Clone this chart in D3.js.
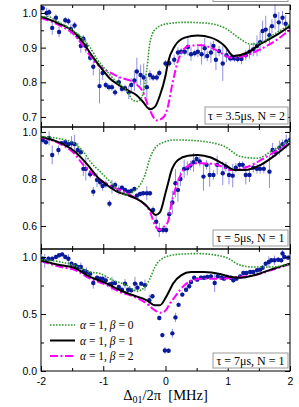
<!DOCTYPE html>
<html>
<head>
<meta charset="utf-8">
<script src="https://cdn.jsdelivr.net/npm/d3@7"></script>
<style>
  body { margin: 0; background: #fff; }
  svg { display: block; }
</style>
</head>
<body>
<script>
// measured points: [detuning, value, error]
const pts1 = [[-1.97,1.014,0.01],[-1.91,1.0,0.015],[-1.87,1.002,0.01],[-1.82,0.957,0.02],[-1.76,0.986,0.01],[-1.71,0.945,0.015],
  [-1.61,0.979,0.01],[-1.56,0.976,0.01],[-1.52,0.954,0.015],[-1.46,0.964,0.01],[-1.41,0.933,0.01],[-1.36,0.905,0.02],
  [-1.32,0.926,0.01],[-1.28,0.905,0.02],[-1.21,0.871,0.01],[-1.16,0.845,0.025],[-1.06,0.789,0.05],[-1.01,0.827,0.02],
  [-0.96,0.792,0.01],[-0.91,0.786,0.01],[-0.86,0.786,0.01],[-0.81,0.771,0.01],[-0.75,0.80,0.015],[-0.70,0.781,0.01],
  [-0.65,0.783,0.01],[-0.59,0.771,0.02],[-0.55,0.792,0.02],[-0.50,0.805,0.03],[-0.46,0.831,0.04],[-0.40,0.821,0.03],
  [-0.35,0.814,0.04],[-0.30,0.786,0.03],[-0.25,0.821,0.015],[-0.20,0.814,0.01],[-0.14,0.814,0.01],[-0.10,0.827,0.01],
  [0.0,0.854,0.01],[0.06,0.855,0.01],[0.14,0.865,0.015],[0.20,0.886,0.015],[0.25,0.888,0.01],[0.31,0.888,0.01],
  [0.36,0.902,0.025],[0.41,0.881,0.02],[0.47,0.884,0.01],[0.52,0.888,0.015],[0.58,0.881,0.03],[0.63,0.898,0.03],
  [0.67,0.876,0.015],[0.73,0.886,0.03],[0.77,0.905,0.015],[0.81,0.865,0.03],[0.86,0.89,0.015],[0.92,0.854,0.05],
  [0.98,0.878,0.02],[1.04,0.869,0.01],[1.07,0.871,0.01],[1.11,0.869,0.01],[1.16,0.867,0.01],[1.22,0.867,0.015],
  [1.29,0.878,0.015],[1.35,0.888,0.02],[1.41,0.895,0.02],[1.47,0.905,0.03],[1.52,0.916,0.03],[1.56,0.948,0.03],
  [1.61,0.952,0.04],[1.67,0.936,0.025],[1.71,0.962,0.02],[1.76,0.992,0.04],[1.82,0.973,0.03],[1.88,0.986,0.02],
  [1.93,0.969,0.025],[2.0,0.96,0.02]];

const pts2 = [[-1.97,0.966,0.015],[-1.92,0.956,0.01],[-1.87,0.973,0.03],[-1.82,0.902,0.04],[-1.72,0.923,0.02],
  [-1.67,0.952,0.01],[-1.61,0.956,0.01],[-1.56,0.948,0.01],[-1.51,0.952,0.03],[-1.46,0.948,0.04],[-1.41,0.923,0.03],
  [-1.36,0.914,0.015],[-1.32,0.843,0.03],[-1.28,0.843,0.05],[-1.21,0.82,0.015],[-1.16,0.746,0.02],[-1.10,0.796,0.03],
  [-1.05,0.786,0.015],[-1.01,0.770,0.02],[-0.96,0.777,0.015],[-0.90,0.695,0.015],[-0.86,0.767,0.03],[-0.81,0.774,0.015],
  [-0.75,0.753,0.02],[-0.70,0.763,0.01],[-0.65,0.753,0.01],[-0.60,0.746,0.01],[-0.55,0.749,0.01],[-0.50,0.757,0.01],
  [-0.46,0.729,0.01],[-0.41,0.736,0.01],[-0.36,0.739,0.01],[-0.30,0.739,0.03],[-0.25,0.739,0.01],[-0.20,0.668,0.015],
  [-0.15,0.618,0.03],[-0.10,0.583,0.03],[-0.04,0.583,0.015],[0.01,0.583,0.015],[0.06,0.65,0.02],[0.11,0.70,0.05],
  [0.16,0.782,0.06],[0.20,0.753,0.05],[0.24,0.80,0.03],[0.30,0.843,0.04],[0.35,0.845,0.03],[0.40,0.857,0.02],
  [0.45,0.871,0.04],[0.50,0.885,0.02],[0.55,0.874,0.02],[0.61,0.81,0.06],[0.66,0.86,0.02],[0.71,0.817,0.05],
  [0.77,0.817,0.02],[0.83,0.86,0.04],[0.92,0.824,0.05],[0.97,0.852,0.02],[1.02,0.817,0.04],[1.08,0.814,0.05],
  [1.13,0.848,0.02],[1.19,0.86,0.015],[1.24,0.86,0.015],[1.29,0.817,0.04],[1.35,0.817,0.03],[1.41,0.848,0.02],
  [1.47,0.843,0.02],[1.52,0.843,0.02],[1.58,0.843,0.02],[1.67,0.831,0.07],[1.72,0.923,0.03],[1.77,0.914,0.02],
  [1.83,0.933,0.03],[1.88,0.948,0.02],[1.94,0.959,0.03],[2.0,0.966,0.02]];

const pts3 = [[-1.97,0.985,0.02],[-1.94,0.965,0.06],[-1.88,0.985,0.02],[-1.82,0.985,0.02],[-1.76,1.0,0.02],
  [-1.71,1.015,0.02],[-1.66,1.023,0.02],[-1.61,1.0,0.02],[-1.56,0.985,0.04],[-1.51,0.941,0.02],[-1.45,0.927,0.02],
  [-1.41,0.912,0.02],[-1.36,0.912,0.04],[-1.31,0.877,0.02],[-1.27,0.868,0.04],[-1.21,0.854,0.02],[-1.16,0.772,0.05],
  [-1.10,0.818,0.02],[-1.05,0.81,0.02],[-1.01,0.81,0.02],[-0.96,0.795,0.04],[-0.90,0.76,0.02],[-0.86,0.766,0.06],
  [-0.81,0.772,0.02],[-0.75,0.737,0.02],[-0.70,0.713,0.02],[-0.65,0.766,0.04],[-0.60,0.713,0.02],[-0.55,0.708,0.02],
  [-0.49,0.766,0.06],[-0.45,0.731,0.04],[-0.39,0.766,0.02],[-0.33,0.752,0.05],[-0.26,0.62,0.05],[-0.21,0.655,0.02],
  [-0.10,0.465,0.02],[-0.05,0.315,0.02],[-0.01,0.18,0.03],[0.05,0.178,0.02],[0.11,0.33,0.04],[0.16,0.47,0.04],
  [0.21,0.58,0.02],[0.27,0.67,0.02],[0.33,0.713,0.02],[0.38,0.743,0.02],[0.41,0.781,0.02],[0.46,0.818,0.02],
  [0.51,0.801,0.02],[0.57,0.818,0.02],[0.62,0.818,0.02],[0.67,0.825,0.02],[0.73,0.83,0.02],[0.79,0.772,0.08],
  [0.84,0.83,0.02],[0.90,0.818,0.02],[0.94,0.81,0.02],[0.99,0.825,0.02],[1.05,0.818,0.02],[1.09,0.795,0.02],
  [1.14,0.81,0.02],[1.20,0.83,0.02],[1.25,0.86,0.02],[1.30,0.86,0.02],[1.36,0.868,0.02],[1.41,0.868,0.02],
  [1.47,0.883,0.02],[1.52,0.889,0.02],[1.56,0.906,0.02],[1.61,0.941,0.02],[1.66,0.956,0.05],[1.70,0.971,0.02],
  [1.75,0.971,0.04],[1.81,0.976,0.02],[1.86,0.971,0.02],[1.88,1.03,0.04],[1.91,1.0,0.02],[1.97,0.994,0.02]];

// model curves: alpha = 1, beta = 0 / 1 / 2
const g1 = [[-2,0.988],[-1.9,0.99],[-1.73,0.975],[-1.55,0.957],[-1.32,0.924],[-1.21,0.90],[-1.1,0.867],[-0.97,0.838],
  [-0.78,0.80],[-0.62,0.776],[-0.52,0.748],[-0.44,0.745],[-0.36,0.767],[-0.30,0.838],[-0.25,0.914],[-0.17,0.952],
  [0,0.968],[0.31,0.973],[0.63,0.971],[0.95,0.957],[1.21,0.924],[1.37,0.91],[1.52,0.914],[1.74,0.938],[2,0.967]];
const b1 = [[-2,0.989],[-1.73,0.971],[-1.47,0.945],[-1.32,0.914],[-1.18,0.876],[-1.02,0.838],[-0.89,0.81],[-0.73,0.79],
  [-0.60,0.776],[-0.46,0.762],[-0.36,0.743],[-0.25,0.722],[-0.17,0.729],[-0.09,0.762],[0,0.819],[0.04,0.857],
  [0.15,0.905],[0.31,0.929],[0.52,0.935],[0.73,0.929],[0.95,0.905],[1.09,0.876],[1.32,0.886],[1.52,0.91],[1.8,0.938],[2,0.962]];
const m1 = [[-2,0.986],[-1.68,0.962],[-1.47,0.938],[-1.25,0.886],[-1.1,0.852],[-0.94,0.833],[-0.73,0.814],[-0.52,0.80],
  [-0.36,0.771],[-0.25,0.719],[-0.14,0.69],[-0.03,0.70],[0.03,0.724],[0.11,0.795],[0.21,0.867],[0.37,0.905],
  [0.58,0.907],[0.79,0.895],[1.06,0.871],[1.27,0.876],[1.52,0.895],[1.8,0.924],[2,0.952]];

const g2 = [[-2,0.98],[-1.68,0.97],[-1.47,0.952],[-1.32,0.916],[-1.21,0.874],[-1.05,0.831],[-0.89,0.789],[-0.73,0.746],
  [-0.62,0.732],[-0.52,0.745],[-0.41,0.774],[-0.33,0.817],[-0.25,0.888],[-0.17,0.931],[0,0.959],[0.14,0.966],
  [0.52,0.962],[0.95,0.938],[1.21,0.895],[1.48,0.888],[1.69,0.916],[2,0.966]];
const b2 = [[-2,0.98],[-1.68,0.952],[-1.47,0.919],[-1.25,0.86],[-1.1,0.81],[-0.94,0.774],[-0.78,0.746],[-0.62,0.732],
  [-0.46,0.715],[-0.33,0.692],[-0.22,0.661],[-0.16,0.647],[-0.09,0.658],[0,0.74],[0.04,0.78],[0.09,0.831],[0.2,0.881],
  [0.36,0.899],[0.52,0.902],[0.73,0.891],[0.95,0.86],[1.11,0.838],[1.27,0.838],[1.53,0.86],[1.8,0.909],[2,0.952]];
const m2 = [[-2,0.976],[-1.68,0.948],[-1.47,0.909],[-1.32,0.86],[-1.16,0.82],[-0.94,0.777],[-0.73,0.753],[-0.52,0.725],
  [-0.36,0.697],[-0.25,0.661],[-0.17,0.604],[-0.1,0.583],[0,0.604],[0.04,0.618],[0.09,0.689],[0.2,0.789],[0.31,0.845],
  [0.52,0.867],[0.79,0.863],[1.06,0.838],[1.32,0.852],[1.58,0.888],[1.8,0.923],[2,0.952]];

const g3 = [[-2,0.976],[-1.68,0.956],[-1.47,0.927],[-1.21,0.868],[-1.05,0.854],[-0.84,0.795],[-0.62,0.752],[-0.46,0.70],
  [-0.36,0.722],[-0.25,0.81],[-0.17,0.912],[0,1.0],[0.21,1.023],[0.52,1.03],[0.95,1.0],[1.21,0.927],[1.42,0.912],
  [1.69,0.912],[2,0.935]];
const b3 = [[-2,0.97],[-1.68,0.927],[-1.47,0.906],[-1.21,0.825],[-0.94,0.766],[-0.73,0.708],[-0.52,0.664],[-0.3,0.62],
  [-0.17,0.576],[-0.09,0.576],[0,0.64],[0.05,0.69],[0.12,0.766],[0.25,0.839],[0.41,0.868],[0.62,0.868],[0.89,0.848],
  [1.05,0.825],[1.21,0.818],[1.42,0.839],[1.69,0.889],[2,0.941]];
const m3 = [[-2,0.965],[-1.68,0.912],[-1.47,0.889],[-1.21,0.81],[-0.94,0.752],[-0.73,0.693],[-0.52,0.655],[-0.3,0.59],
  [-0.17,0.532],[-0.05,0.51],[0.0,0.53],[0.07,0.59],[0.15,0.65],[0.3,0.75],[0.47,0.801],[0.68,0.81],[0.95,0.81],
  [1.16,0.825],[1.42,0.839],[1.69,0.883],[2,0.936]];

const xMajor = [-2, -1, 0, 1, 2];
const xMinor = [-1.5, -0.5, 0.5, 1.5];
const yMajor1 = [0.7, 0.8, 0.9, 1.0], yMinor1 = [0.75, 0.85, 0.95];
const yMajor2 = [0.6, 0.8, 1.0], yMinor2 = [0.7, 0.9];
const yMajor3 = [0.0, 0.5, 1.0], yMinor3 = [0.25, 0.75];
const panelLabels = ["τ = 3.5μs, N = 2", "τ = 5μs, N = 1", "τ = 7μs, N = 1"];
const legendBetas = ["0", "1", "2"];

const width = 299, height = 407;
const sans = "'Liberation Sans', Arial, sans-serif";
const serif = "'Liberation Serif', 'Times New Roman', serif";
const col = { dot: "#0a1a9c", err: "#8f8fe0", green: "#2e9a2e", black: "#000", magenta: "#ff00ff" };
const styles = [
  { color: col.green, w: 1.6, dash: "1.6,1.4" },
  { color: col.black, w: 2, dash: null },
  { color: col.magenta, w: 2, dash: "8,2.5,2,2.5" }
];

const svg = d3.select("body").append("svg")
    .attr("width", width)
    .attr("height", height);

const x = d3.scaleLinear().domain([-2, 2]).range([41, 290]);

const panels = [
  { pts: pts1, curves: [g1, b1, m1], top: 5, bottom: 127, domain: [0.671, 1.023], major: yMajor1, minor: yMinor1, label: panelLabels[0], box: [205, 107, 83, 17] },
  { pts: pts2, curves: [g2, b2, m2], top: 127, bottom: 249, domain: [0.502, 1.021], major: yMajor2, minor: yMinor2, label: panelLabels[1], box: [213, 230, 75, 16] },
  { pts: pts3, curves: [g3, b3, m3], top: 249, bottom: 371, domain: [0, 1.07], major: yMajor3, minor: yMinor3, label: panelLabels[2], box: [213, 353, 75, 15] }
];

// cut-off label box of the panel above (top edge of the figure)
svg.append("rect")
    .attr("x", 213).attr("y", -12)
    .attr("width", 75).attr("height", 13.5)
    .attr("fill", "#fff")
    .attr("stroke", "#999");

const line = d3.line().curve(d3.curveMonotoneX);

panels.forEach((p, i) => {
  const y = d3.scaleLinear().domain(p.domain).range([p.bottom, p.top]);
  const g = svg.append("g");

  const clipId = "clip" + i;
  g.append("clipPath").attr("id", clipId)
    .append("rect")
      .attr("x", x(-2)).attr("y", p.top)
      .attr("width", x(2) - x(-2)).attr("height", p.bottom - p.top);

  const plot = g.append("g").attr("clip-path", `url(#${clipId})`);

  // error bars
  plot.append("g").selectAll("line")
    .data(p.pts)
    .join("line")
      .attr("x1", d => x(d[0])).attr("x2", d => x(d[0]))
      .attr("y1", d => y(d[1] - d[2])).attr("y2", d => y(d[1] + d[2]))
      .attr("stroke", col.err)
      .attr("stroke-width", 1);

  plot.append("g").selectAll("circle")
    .data(p.pts)
    .join("circle")
      .attr("cx", d => x(d[0])).attr("cy", d => y(d[1]))
      .attr("r", 2.2)
      .attr("fill", col.dot);

  line.x(d => x(d[0])).y(d => y(d[1]));
  [2, 1, 0].forEach(k => {
    plot.append("path")
      .attr("d", line(p.curves[k]))
      .attr("fill", "none")
      .attr("stroke", styles[k].color)
      .attr("stroke-width", styles[k].w)
      .attr("stroke-dasharray", styles[k].dash);
  });

  // inward ticks on all four sides
  const addAxis = (axis, tx, ty, vals, size, fmt) => {
    const a = g.append("g")
        .attr("transform", `translate(${tx},${ty})`)
        .call(axis.tickValues(vals).tickSize(-size).tickPadding(fmt ? 4 : 0).tickFormat(fmt || ""))
        .attr("font-family", sans)
        .attr("font-size", 10.5);
    a.select(".domain").remove();
    a.selectAll("text").attr("fill", "#000");
    return a;
  };
  const fmtY = d3.format(".1f");
  addAxis(d3.axisLeft(y), x(-2), 0, p.major, 5, fmtY);
  addAxis(d3.axisLeft(y), x(-2), 0, p.minor, 3, null);
  addAxis(d3.axisRight(y), x(2), 0, p.major, 5, null);
  addAxis(d3.axisRight(y), x(2), 0, p.minor, 3, null);
  addAxis(d3.axisTop(x), 0, p.top, xMajor, 5, null);
  addAxis(d3.axisTop(x), 0, p.top, xMinor, 3, null);
  const bx = addAxis(d3.axisBottom(x), 0, p.bottom, xMajor, 5, i === 2 ? (d => String(d)) : null);
  if (i === 2) bx.selectAll("text").attr("dy", "0.71em").attr("y", 7);
  addAxis(d3.axisBottom(x), 0, p.bottom, xMinor, 3, null);

  g.append("rect")
      .attr("x", x(-2)).attr("y", p.top)
      .attr("width", x(2) - x(-2)).attr("height", p.bottom - p.top)
      .attr("fill", "none")
      .attr("stroke", "#000")
      .attr("stroke-width", 1);

  // panel label box
  const [bx0, by0, bw, bh] = p.box;
  g.append("rect")
      .attr("x", bx0).attr("y", by0)
      .attr("width", bw).attr("height", bh)
      .attr("fill", "#fff")
      .attr("stroke", "#999");
  g.append("text")
      .attr("x", bx0 + bw / 2).attr("y", by0 + bh / 2)
      .attr("dy", "0.35em")
      .attr("text-anchor", "middle")
      .attr("font-family", serif)
      .attr("font-size", 12)
      .text(p.label);
});

// legend (inside the bottom panel)
const legend = svg.append("g").attr("font-family", serif).attr("font-size", 11.5);
legendBetas.forEach((b, k) => {
  const ly = 325 + k * 15.5;
  legend.append("line")
      .attr("x1", 50).attr("x2", 75)
      .attr("y1", ly).attr("y2", ly)
      .attr("stroke", styles[k].color)
      .attr("stroke-width", styles[k].w)
      .attr("stroke-dasharray", styles[k].dash);
  const t = legend.append("text").attr("x", 80).attr("y", ly).attr("dy", "0.35em");
  t.append("tspan").attr("font-style", "italic").text("α");
  t.append("tspan").text(" = 1, ");
  t.append("tspan").attr("font-style", "italic").text("β");
  t.append("tspan").text(" = " + b);
});

// x axis title
const title = svg.append("text")
    .attr("x", x(0)).attr("y", 400)
    .attr("text-anchor", "middle")
    .attr("font-family", serif)
    .attr("font-size", 14.5);
title.append("tspan").text("Δ");
title.append("tspan").attr("font-size", 10).attr("dy", 3).text("01");
title.append("tspan").attr("dy", -3).attr("xml:space", "preserve").text("/2π\u00a0\u00a0[MHz]");
</script>
</body>
</html>
